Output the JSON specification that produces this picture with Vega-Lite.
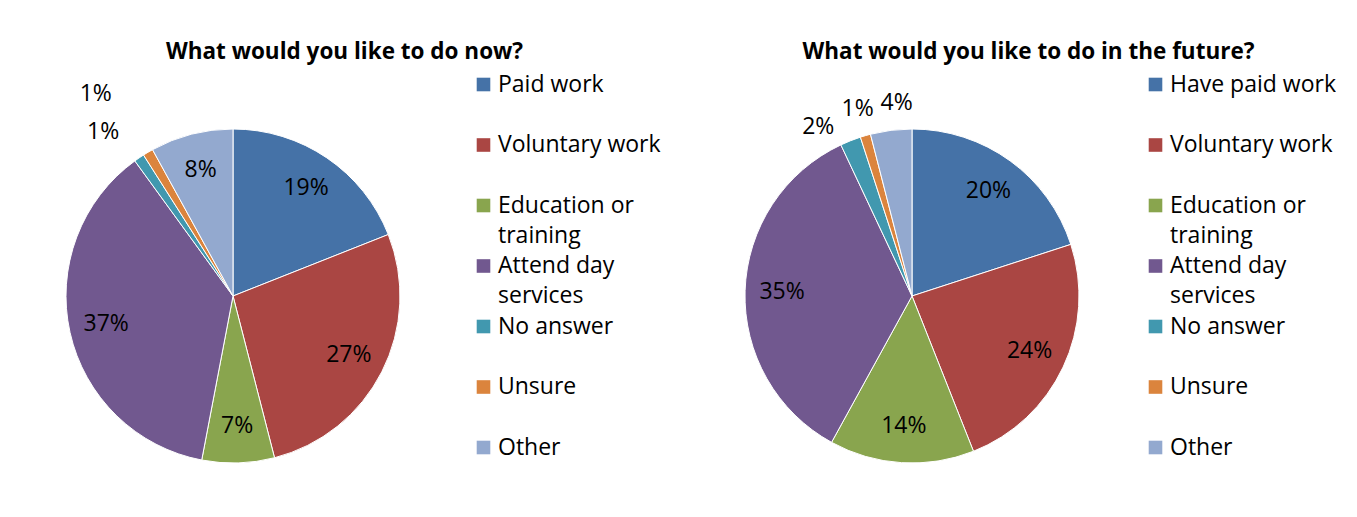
{
  "$schema": "https://vega.github.io/schema/vega-lite/v6.json",
  "background": "white",
  "padding": {"left": 6, "top": 40, "right": 0, "bottom": 0},
  "config": {
    "view": {"stroke": null},
    "font": "Open Sans",
    "text": {"font": "Open Sans"},
    "style": {"guide-label": {"lineHeight": 30}},
    "title": {"font": "Open Sans", "fontSize": 22.5, "fontWeight": "bold", "color": "#000000", "frame": "bounds", "anchor": "middle", "offset": 10},
    "legend": {
      "orient": "right", "offset": 12, "padding": 0,
      "symbolType": "square", "symbolSize": 185, "symbolStrokeWidth": 0,
      "labelFont": "Open Sans", "labelFontSize": 23, "labelColor": "#000000", "labelOffset": 3,
      "labelLimit": 300,
      "gridAlign": "all", "rowPadding": 6.5, "title": null
    }
  },
  "datasets": {
    "now": [
      {"category": "Paid work", "value": 0.19, "idx": 1},
      {"category": "Voluntary work", "value": 0.27, "idx": 2},
      {"category": "Education or training", "value": 0.07, "idx": 3},
      {"category": "Attend day services", "value": 0.37, "idx": 4},
      {"category": "No answer", "value": 0.01, "idx": 5},
      {"category": "Unsure", "value": 0.01, "idx": 6},
      {"category": "Other", "value": 0.08, "idx": 7}
    ],
    "future": [
      {"category": "Have paid work", "value": 0.20, "idx": 1},
      {"category": "Voluntary work", "value": 0.24, "idx": 2},
      {"category": "Education or training", "value": 0.14, "idx": 3},
      {"category": "Attend day services", "value": 0.35, "idx": 4},
      {"category": "No answer", "value": 0.02, "idx": 5},
      {"category": "Unsure", "value": 0.01, "idx": 6},
      {"category": "Other", "value": 0.04, "idx": 7}
    ]
  },
  "spacing": 24,
  "resolve": {"scale": {"color": "independent", "theta": "independent"}, "legend": {"color": "independent"}},
  "hconcat": [
    {
      "width": 454, "height": 446,
      "title": {"text": "What would you like to do now?", "dx": 11},
      "data": {"name": "now"},
      "encoding": {
        "theta": {"field": "value", "type": "quantitative", "stack": true},
        "order": {"field": "idx", "type": "quantitative"}
      },
      "layer": [
        {
          "mark": {"type": "arc", "outerRadius": 167, "stroke": "#ffffff", "strokeWidth": 1},
          "encoding": {
            "color": {
              "field": "category", "type": "nominal",
              "scale": {
                "domain": ["Paid work", "Voluntary work", "Education or training", "Attend day services", "No answer", "Unsure", "Other"],
                "range": ["#4572A7", "#AA4643", "#89A54E", "#71588F", "#4198AF", "#DB843D", "#93A9CF"]
              },
              "legend": {
                "labelExpr": "datum.label == 'Education or training' ? ['Education or', 'training'] : datum.label == 'Attend day services' ? ['Attend day', 'services'] : datum.label"
              }
            }
          }
        },
        {
          "mark": {"type": "text", "radius": 130, "fontSize": 23, "color": "#000000", "clip": true},
          "encoding": {
            "text": {"condition": {"test": "datum.value < 0.05", "value": ""}, "field": "value", "type": "quantitative", "format": ".0%"}
          }
        },
        {
          "mark": {"type": "text", "radius": 208, "dx": -13, "dy": 8, "fontSize": 23, "color": "#000000", "clip": true},
          "encoding": {
            "text": {"condition": {"test": "datum.category != 'No answer'", "value": ""}, "field": "value", "type": "quantitative", "format": ".0%"}
          }
        },
        {
          "mark": {"type": "text", "radius": 244, "dx": -13, "dy": 8, "fontSize": 23, "color": "#000000", "clip": true},
          "encoding": {
            "text": {"condition": {"test": "datum.category != 'Unsure'", "value": ""}, "field": "value", "type": "quantitative", "format": ".0%"}
          }
        }
      ]
    },
    {
      "width": 454, "height": 446,
      "title": {"text": "What would you like to do in the future?", "dx": 18},
      "data": {"name": "future"},
      "encoding": {
        "theta": {"field": "value", "type": "quantitative", "stack": true},
        "order": {"field": "idx", "type": "quantitative"}
      },
      "layer": [
        {
          "mark": {"type": "arc", "outerRadius": 167, "stroke": "#ffffff", "strokeWidth": 1},
          "encoding": {
            "color": {
              "field": "category", "type": "nominal",
              "scale": {
                "domain": ["Have paid work", "Voluntary work", "Education or training", "Attend day services", "No answer", "Unsure", "Other"],
                "range": ["#4572A7", "#AA4643", "#89A54E", "#71588F", "#4198AF", "#DB843D", "#93A9CF"]
              },
              "legend": {
                "offset": 5,
                "labelExpr": "datum.label == 'Education or training' ? ['Education or', 'training'] : datum.label == 'Attend day services' ? ['Attend day', 'services'] : datum.label"
              }
            }
          }
        },
        {
          "mark": {"type": "text", "radius": 130, "fontSize": 23, "color": "#000000", "clip": true},
          "encoding": {
            "text": {"condition": {"test": "datum.value < 0.05", "value": ""}, "field": "value", "type": "quantitative", "format": ".0%"}
          }
        },
        {
          "mark": {"type": "text", "radius": 195, "dx": -22, "dy": 12, "fontSize": 23, "color": "#000000", "clip": true},
          "encoding": {
            "text": {"condition": {"test": "datum.category != 'No answer'", "value": ""}, "field": "value", "type": "quantitative", "format": ".0%"}
          }
        },
        {
          "mark": {"type": "text", "radius": 195, "fontSize": 23, "color": "#000000", "clip": true},
          "encoding": {
            "text": {"condition": {"test": "datum.category != 'Unsure'", "value": ""}, "field": "value", "type": "quantitative", "format": ".0%"}
          }
        },
        {
          "mark": {"type": "text", "radius": 195, "dx": 9, "fontSize": 23, "color": "#000000", "clip": true},
          "encoding": {
            "text": {"condition": {"test": "datum.category != 'Other'", "value": ""}, "field": "value", "type": "quantitative", "format": ".0%"}
          }
        }
      ]
    }
  ]
}
